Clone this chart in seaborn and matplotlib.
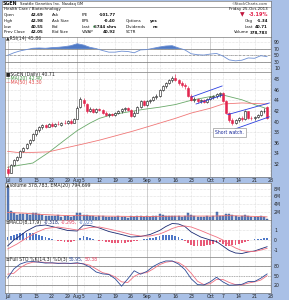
import numpy as np
import pandas as pd
import matplotlib
matplotlib.use("Agg")
import matplotlib.pyplot as plt
import matplotlib.text as mtext
import seaborn as sns

sns.set_style("white")
plt.rcParams['font.family'] = ['DejaVu Sans']

# ---------------- data ----------------
opens = [31.0, 30.4, 31.9, 32.8, 33.4, 34.5, 35.0, 35.9, 36.6, 37.6,
         38.5, 38.9, 39.3, 39.0, 39.5, 39.2, 39.6, 39.4, 39.8, 39.7,
         40.1, 39.8, 40.5, 42.7, 44.0, 43.3, 42.0, 42.4, 41.8, 42.3,
         42.1, 41.6, 41.3, 41.4, 41.2, 41.6, 42.0, 42.3, 42.5, 42.2,
         41.1, 41.7, 42.8, 43.8, 43.1, 43.9, 44.0, 44.6, 44.9, 46.0,
         46.7, 47.3, 47.8, 48.2, 47.8, 47.2, 46.9, 46.4, 44.9, 44.1,
         44.3, 43.8, 44.0, 43.6, 44.3, 44.6, 44.8, 45.1, 45.3, 43.9,
         41.6, 40.2, 39.8, 40.3, 40.6, 40.4, 41.9, 40.7, 40.6, 40.8,
         41.3, 42.0, 42.69]
highs = [31.6, 32.0, 32.9, 33.6, 34.6, 35.3, 36.0, 36.8, 37.8, 38.6,
         39.2, 39.6, 39.5, 39.7, 39.9, 39.8, 40.1, 40.0, 40.2, 40.3,
         40.5, 40.6, 42.9, 44.6, 44.4, 43.5, 42.7, 42.6, 42.5, 42.6,
         42.3, 41.9, 41.7, 41.6, 41.8, 42.2, 42.5, 42.7, 42.8, 42.3,
         41.9, 42.9, 44.0, 44.0, 44.1, 44.3, 44.8, 45.2, 46.2, 46.9,
         47.5, 48.0, 48.5, 48.9, 48.1, 47.6, 47.3, 46.6, 45.2, 44.6,
         44.5, 44.3, 44.2, 44.5, 44.9, 45.0, 45.4, 45.6, 45.5, 44.0,
         41.8, 40.6, 40.5, 40.8, 41.0, 42.1, 42.0, 41.0, 41.0, 41.5,
         42.2, 42.5, 42.98]
lows = [29.9, 30.3, 31.7, 32.5, 33.2, 34.2, 34.8, 35.6, 36.4, 37.3,
        38.1, 38.6, 38.7, 38.9, 39.0, 39.0, 39.3, 39.2, 39.5, 39.5,
        39.6, 39.7, 40.4, 42.5, 43.0, 41.7, 41.8, 41.6, 41.6, 41.9,
        41.4, 41.0, 40.9, 41.0, 41.0, 41.4, 41.7, 42.0, 42.0, 40.9,
        40.9, 41.6, 42.6, 42.9, 43.0, 43.4, 43.8, 44.2, 44.7, 45.8,
        46.4, 47.0, 47.4, 47.6, 46.9, 46.5, 46.2, 44.6, 43.8, 43.6,
        43.5, 43.5, 43.5, 43.5, 44.1, 44.2, 44.5, 44.7, 43.6, 41.4,
        39.9, 39.4, 39.5, 40.0, 40.1, 40.3, 40.5, 40.3, 40.2, 40.6,
        41.1, 41.7, 40.55]
closes = [30.3, 31.9, 32.7, 33.4, 34.4, 35.1, 35.8, 36.5, 37.6, 38.4,
          38.9, 39.3, 39.0, 39.5, 39.2, 39.6, 39.5, 39.8, 39.7, 40.1,
          39.8, 40.4, 42.6, 44.2, 43.4, 42.0, 42.4, 41.8, 42.3, 42.1,
          41.6, 41.3, 41.4, 41.2, 41.6, 42.0, 42.3, 42.5, 42.2, 41.1,
          41.7, 42.7, 43.8, 43.1, 43.9, 44.0, 44.6, 44.9, 46.0, 46.7,
          47.3, 47.8, 48.2, 47.8, 47.2, 46.9, 46.6, 44.9, 44.1, 44.3,
          43.8, 44.0, 43.7, 44.3, 44.6, 44.8, 45.1, 45.3, 43.9, 41.6,
          40.2, 39.8, 40.3, 40.6, 40.4, 41.9, 40.7, 40.6, 40.8, 41.3,
          42.0, 42.05, 40.71]
volume_m = [8.1, 2.2, 1.8, 1.3, 1.6, 1.4, 1.5, 1.3, 1.7, 1.9,
            1.4, 1.2, 1.0, 1.1, 0.9, 1.0, 1.2, 0.8, 0.9, 1.0,
            0.8, 0.9, 1.9, 1.8, 1.3, 1.2, 1.0, 0.9, 0.8, 0.9,
            1.0, 0.8, 0.7, 0.8, 0.7, 0.9, 0.8, 0.7, 0.6, 1.0,
            0.8, 0.9, 1.1, 0.8, 0.9, 0.8, 1.0, 0.9, 1.5, 1.2,
            1.1, 1.0, 0.9, 1.0, 0.9, 0.8, 0.9, 1.7, 1.3, 0.9,
            0.8, 0.8, 0.7, 0.9, 0.8, 0.9, 2.0, 1.0, 1.1, 1.5,
            1.6, 1.2, 1.0, 0.8, 0.9, 1.3, 1.1, 0.8, 0.7, 0.8,
            0.9, 0.8, 0.378783]
vol_ema_x = [0, 5, 10, 15, 20, 25, 30, 35, 40, 45, 50, 55, 60, 65, 70, 75, 82]
vol_ema_m = [1.9, 1.75, 1.45, 1.25, 1.1, 1.1, 1.0, 0.95, 0.9, 0.9, 0.95, 1.0, 1.0, 1.0, 1.1, 1.0, 0.79]

ma20_x = [0, 8, 13, 18, 22, 26, 29, 33, 39, 43, 48, 53, 58, 64, 68, 74, 78, 82]
ma20_y = [31.4, 32.2, 34.2, 36.5, 38.3, 39.7, 40.6, 41.3, 41.9, 42.3, 42.7, 43.2, 44.0, 44.7, 45.0, 44.1, 43.2, 42.4]
ma50_x = [0, 3, 8, 13, 18, 24, 29, 34, 39, 43, 48, 53, 58, 64, 68, 74, 82]
ma50_y = [34.4, 34.2, 34.2, 34.3, 35.0, 35.8, 36.5, 37.3, 38.1, 38.8, 39.7, 40.6, 41.6, 42.5, 43.3, 43.5, 43.3]

# trend channels (start index, start price, end index, end price)
channel_lines = [(58.0, 44.6, 67.8, 46.7), (59.5, 43.3, 68.0, 45.0),
                 (69.5, 41.3, 82.7, 43.5), (68.5, 37.9, 82.7, 40.9)]

rsi_x = list(range(0, 83, 2))
rsi_y = [50, 58, 64, 68, 72, 73, 72, 74, 75, 77, 80, 86, 82, 75, 71, 65, 60, 60, 63, 62,
         58, 67, 68, 72, 76, 79, 80, 73, 67, 55, 52, 51, 54, 56, 48, 36, 33, 35, 42, 41, 49, 45.86]

macd_x = [0, 2, 3, 6, 9, 12, 16, 19, 22, 24, 26, 29, 32, 36, 39, 42, 45, 48, 50, 52, 54, 56, 58,
          61, 64, 66, 68, 70, 72, 74, 76, 78, 80, 82]
macd_y = [-0.6, 0.0, 0.2, 0.9, 1.4, 1.5, 1.2, 0.95, 0.9, 1.5, 1.45, 1.2, 0.85, 0.55, 0.3, 0.35,
          0.55, 0.95, 1.35, 1.65, 1.6, 1.35, 0.8, 0.3, 0.0, -0.15, -0.6, -1.05, -1.3, -1.35,
          -1.2, -1.1, -0.88, -0.67]
signal_x = [0, 3, 6, 9, 12, 16, 19, 22, 24, 26, 29, 32, 36, 39, 42, 45, 48, 50, 52, 54, 56, 58,
            61, 64, 66, 68, 70, 72, 74, 76, 78, 80, 82]
signal_y = [-0.9, -0.4, 0.2, 0.75, 1.15, 1.3, 1.15, 1.0, 1.1, 1.25, 1.3, 1.1, 0.8, 0.55, 0.4,
            0.4, 0.6, 0.85, 1.15, 1.35, 1.4, 1.3, 0.95, 0.55, 0.3, 0.0, -0.45, -0.8, -1.05,
            -1.15, -1.15, -1.0, -0.83]
macd_hist = [0.3, 0.4, 0.5, 0.6, 0.65, 0.7, 0.7, 0.7, 0.65, 0.6,
             0.5, 0.4, 0.3, 0.2, 0.1, 0.0, -0.1, -0.15, -0.2, -0.2,
             -0.2, -0.15, -0.05, 0.2, 0.4, 0.3, 0.2, 0.1, 0.0, -0.1,
             -0.15, -0.2, -0.25, -0.3, -0.3, -0.3, -0.3, -0.3, -0.25, -0.25,
             -0.15, -0.1, -0.05, 0.05, 0.1, 0.15, 0.2, 0.3, 0.35, 0.45,
             0.5, 0.5, 0.5, 0.4, 0.25, 0.05, -0.15, -0.35, -0.5, -0.6,
             -0.65, -0.65, -0.6, -0.55, -0.5, -0.4, -0.3, -0.25, -0.45, -0.6,
             -0.6, -0.55, -0.5, -0.4, -0.3, -0.2, -0.1, -0.05, 0.05, 0.1,
             0.12, 0.15, 0.16]

sto_x = list(range(0, 83, 2))
sto_k = [42, 72, 88, 95, 96, 94, 91, 92, 90, 91, 90, 92, 88, 78, 62, 56, 54, 40, 16, 40,
         66, 55, 64, 80, 91, 98, 98, 88, 70, 40, 21, 20, 30, 45, 30, 19, 20, 22, 31, 31, 42, 55.95]
sto_d = [55, 58, 76, 88, 94, 95, 93, 91, 91, 90, 90, 90, 89, 84, 72, 60, 55, 46, 30, 28,
         48, 58, 60, 72, 86, 94, 97, 93, 80, 58, 32, 21, 24, 38, 38, 28, 21, 20, 26, 30, 36, 50.38]

tick_dates = ["2013-07-01", "2013-07-08", "2013-07-15", "2013-07-22", "2013-07-29", "2013-08-01",
              "2013-08-05", "2013-08-12", "2013-08-19", "2013-08-26", "2013-09-03", "2013-09-09",
              "2013-09-16", "2013-09-23", "2013-10-01", "2013-10-07", "2013-10-14", "2013-10-21",
              "2013-10-28"]
tick_labels = ["Jul", "8", "15", "22", "29", "Aug", "5", "12", "19", "26", "Sep", "9", "16", "23",
               "Oct", "7", "14", "21", "28"]
holidays = ["2013-07-04", "2013-09-02"]

# ---------------- layout helpers ----------------
W, H = 289, 300
BLUE = "#a9c0e6"
RED = "#e3264f"
FS = 3.3
FSH = 2.9

days = pd.bdate_range("2013-07-01", "2013-10-28")
days = days[~days.isin(pd.to_datetime(holidays))]
tick_pos = [days.get_loc(pd.Timestamp(d)) for d in tick_dates]
n = len(closes)
xs = np.arange(n)

fig = plt.figure(figsize=(W / 100, H / 100), dpi=100, facecolor=BLUE)


def px_axes(x0, y0, x1, y1, face="white"):
    return fig.add_axes([x0 / W, 1 - y1 / H, (x1 - x0) / W, (y1 - y0) / H], facecolor=face)


def P(x, y):
    return (x / W, 1 - y / H)


def chain_text(x, y, pieces, fs=FS, gap=0.9):
    first = pieces[0]
    t = fig.text(*P(x, y), first[0], color=first[1], fontsize=first[2] if len(first) > 2 else fs,
                 fontweight=first[3] if len(first) > 3 else "normal", va="center", ha="left")
    for piece in pieces[1:]:
        s, c = piece[0], piece[1]
        t = fig.add_artist(mtext.Annotation(
            s, xy=(1, 0), xycoords=t, xytext=(gap, 0), textcoords="offset points",
            color=c, fontsize=piece[2] if len(piece) > 2 else fs,
            fontweight=piece[3] if len(piece) > 3 else "normal", va="bottom", ha="left"))
    return t


def style_panel(ax, yt, ylabels, ylim, show_x=False):
    ax.set_xlim(-0.8, 83.2)
    ax.set_ylim(*ylim)
    ax.set_xlabel("")
    ax.set_ylabel("")
    for s in ax.spines.values():
        s.set_visible(True)
        s.set_color("#7a7a7a")
        s.set_linewidth(0.5)
    ax.yaxis.tick_right()
    ax.set_yticks(yt)
    ax.set_yticklabels(ylabels)
    ax.tick_params(axis="y", length=0, labelsize=FS, pad=2.2, colors="#222222")
    ax.set_xticks(tick_pos)
    ax.set_xticklabels(tick_labels if show_x else [])
    ax.tick_params(axis="x", length=0, labelsize=FS, pad=0.6, colors="#222222")
    for v in yt:
        ax.axhline(v, color="#c4c4c4", lw=0.4, ls=(0, (1, 1.5)), zorder=0)
    for p, lab in zip(tick_pos, tick_labels):
        if lab.isalpha():
            ax.axvline(p, color="#b4b4b4", lw=0.45, zorder=0)
        else:
            ax.axvline(p, color="#c8c8c8", lw=0.4, ls=(0, (1, 1.5)), zorder=0)


# ---------------- header ----------------
hdr = px_axes(2, 1, 271, 36.5)
hdr.set_xticks([]); hdr.set_yticks([])
for s in hdr.spines.values():
    s.set_color("#7a7a7a"); s.set_linewidth(0.5)
hdr.set_xlim(0, 1); hdr.set_ylim(0, 1)
hdr.axhline(1 - 5.5 / 35.5, color="#7a7a7a", lw=0.5)

chain_text(3, 3.6, [("SGEN", "#111111", FS + 0.1, "bold"),
                    ("Seattle Genetics Inc.", "#111111", FSH - 0.1),
                    ("Nasdaq GM", "#111111", FSH - 0.3)], gap=1.6)
fig.text(*P(268, 3.6), "\u00a9StockCharts.com", fontsize=FSH - 0.2, va="center", ha="right", color="#333333")
fig.text(*P(4, 9.4), "Health Care / Biotechnology", fontsize=FSH, va="center", color="#111111")
fig.text(*P(268, 9.4), "Friday 25-Oct-2013", fontsize=FSH, va="center", ha="right", color="#111111")

rows_y = [15.0, 20.8, 26.6, 32.4]
col1 = [("Open", "42.69"), ("High", "42.98"), ("Low", "40.55"), ("Prev Close", "42.05")]
col2 = ["Ask", "Ask Size", "Bid", "Bid Size"]
col3 = [("P/E", "-101.77"), ("EPS", "-0.40"), ("Last", "6744 shrs"), ("VWAP", "40.92")]
col4 = [("", ""), ("Options", "yes"), ("Dividends", "no"), ("SCTR", "")]
right = [("", "-3.19%"), ("Chg", "-1.34"), ("Last", "40.71"), ("Volume", "378,783")]
for y, (a, b), c, (d, e), (f, g), (h, k) in zip(rows_y, col1, col2, col3, col4, right):
    fig.text(*P(4, y), a, fontsize=FSH, va="center", color="#111111")
    fig.text(*P(44, y), b, fontsize=FSH, va="center", ha="right", fontweight="bold", color="#111111")
    fig.text(*P(52, y), c, fontsize=FSH, va="center", color="#111111")
    fig.text(*P(82, y), d, fontsize=FSH, va="center", color="#111111")
    fig.text(*P(116, y), e, fontsize=FSH, va="center", ha="right", fontweight="bold", color="#111111")
    if f:
        fig.text(*P(126, y), f, fontsize=FSH, va="center", color="#111111")
        fig.text(*P(158, y), g, fontsize=FSH, va="center", ha="right", fontweight="bold", color="#111111")
    if h:
        fig.text(*P(245 if h != "Volume" else 234, y), h, fontsize=FSH, va="center", color="#111111")
    fig.text(*P(268, y), k, fontsize=FSH + (0.7 if not h else 0), va="center", ha="right",
             fontweight="bold", color=RED if not h else "#111111")
fig.text(*P(92.5, rows_y[2]), "\u25b2", fontsize=FSH - 0.9, va="center", ha="left", color="#1e7a2e")
fig.text(*P(240, rows_y[0]), "\u25bc", fontsize=FS + 1, va="center", color="#c0143c")

# ---------------- RSI panel ----------------
ax_rsi = px_axes(5, 36.5, 271, 71.7)
rsi_arr = np.array(rsi_y, dtype=float)
ax_rsi.fill_between(rsi_x, rsi_arr, 70, where=rsi_arr > 70, interpolate=True, color="#4f7ac6", lw=0, zorder=2)
sns.lineplot(x=rsi_x, y=rsi_y, ax=ax_rsi, color="#6d8fd3", linewidth=0.6, zorder=3)
ax_rsi.axhline(70, color="#777777", lw=0.5, zorder=1)
ax_rsi.axhline(30, color="#777777", lw=0.5, zorder=1)
ax_rsi.axhline(50, color="#888888", lw=0.5, ls=(0, (3, 1, 1, 1)), zorder=1)
style_panel(ax_rsi, [90, 70, 50, 30, 10], ["90", "70", "50", "30", "10"], (-0.6, 108.5))
chain_text(6, 38.6, [("\u25b2RSI(14) 45.86", "#333333")])

# ---------------- price panel ----------------
ax_p = px_axes(5, 71.7, 271, 177)
prev_close = [opens[0]] + closes[:-1]
for i in range(n):
    o, h, l, c = opens[i], highs[i], lows[i], closes[i]
    col = RED if c < prev_close[i] else "#111111"
    ax_p.vlines(xs[i], l, h, color=col, lw=0.45, zorder=3)
    ax_p.bar(xs[i], max(abs(c - o), 0.06), bottom=min(o, c), width=0.62,
             facecolor=(col if c < o else "white"), edgecolor=col, linewidth=0.4, zorder=4)
sns.lineplot(x=ma20_x, y=ma20_y, ax=ax_p, color="#6aa96a", linewidth=0.6, zorder=2)
sns.lineplot(x=ma50_x, y=ma50_y, ax=ax_p, color="#f07878", linewidth=0.6, zorder=2)
for x0, y0, x1, y1 in channel_lines:
    ax_p.plot([x0, x1], [y0, y1], color="#2a3ee0", lw=0.6, zorder=5)
ax_p.text(65.6, 37.95, "Short watch.", fontsize=FS, color="#1a2a9a", va="center", ha="left", zorder=6,
          bbox=dict(boxstyle="square,pad=0.5", facecolor="white", edgecolor="#9a9a9a", linewidth=0.5))
ptk = [48, 46, 44, 42, 40, 38, 36, 34, 32]
style_panel(ax_p, ptk, [str(v) for v in ptk], (29.57, 49.38), show_x=True)
chain_text(6, 74.8, [("\u25a0SGEN (Daily) 40.71", "#222222")])
chain_text(6, 78.6, [("\u2014MA(20) 42.40", "#3f8f3f")])
chain_text(6, 82.4, [("\u2014MA(50) 43.30", "#e04848")])

# ---------------- volume panel ----------------
ax_v = px_axes(5, 183, 271, 220)
ax_v.bar(xs, np.array(volume_m) * 1e6, width=0.62, color="#5b7fbf", edgecolor="#34528f", linewidth=0.3, zorder=3)
sns.lineplot(x=vol_ema_x, y=np.array(vol_ema_m) * 1e6, ax=ax_v, color="#f07070", linewidth=0.6, zorder=4)
style_panel(ax_v, [8e6, 6e6, 4e6, 2e6], ["8M", "6M", "4M", "2M"], (0, 9.4e6))
chain_text(6, 185.6, [("\u25b2Volume 378,783, EMA(20) 794,699", "#222222")])

# ---------------- MACD panel ----------------
ax_m = px_axes(5, 220, 271, 256.7)
hist = np.array(macd_hist)
ax_m.bar(xs, hist, width=0.6, color=np.where(hist >= 0, "#4f78c8", "#e85a78"), linewidth=0, zorder=2)
sns.lineplot(x=macd_x, y=macd_y, ax=ax_m, color="#1b2a73", linewidth=0.6, zorder=3)
sns.lineplot(x=signal_x, y=signal_y, ax=ax_m, color="#f07080", linewidth=0.6, zorder=3)
style_panel(ax_m, [1, 0, -1], ["1", "0", "-1"], (-1.67, 2.0))
chain_text(6, 222.7, [("\u2261MACD(8,17,9)", "#222222"), ("-0.318,", "#1b2a73"),
                      ("-0.295,", "#e84060"), ("-0.023", "#4f78c8")])

# ---------------- Full STO panel ----------------
ax_s = px_axes(5, 256.7, 271, 293)
sns.lineplot(x=sto_x, y=sto_d, ax=ax_s, color="#f07080", linewidth=0.6, zorder=3)
sns.lineplot(x=sto_x, y=sto_k, ax=ax_s, color="#2d4a96", linewidth=0.6, zorder=4)
ax_s.axhline(80, color="#777777", lw=0.5, zorder=1)
ax_s.axhline(20, color="#777777", lw=0.5, zorder=1)
ax_s.axhline(50, color="#999999", lw=0.5, ls=(0, (2, 1.5)), zorder=1)
style_panel(ax_s, [80, 50, 20], ["80", "50", "20"], (-6.2, 111.8), show_x=True)
chain_text(6, 259.3, [("\u2261Full STO %K(14,3) %D(3)", "#222222"), ("55.95,", "#2d4a96"),
                      ("50.38", "#e84060")])

fig.savefig("out.png", dpi=100, facecolor=BLUE)
